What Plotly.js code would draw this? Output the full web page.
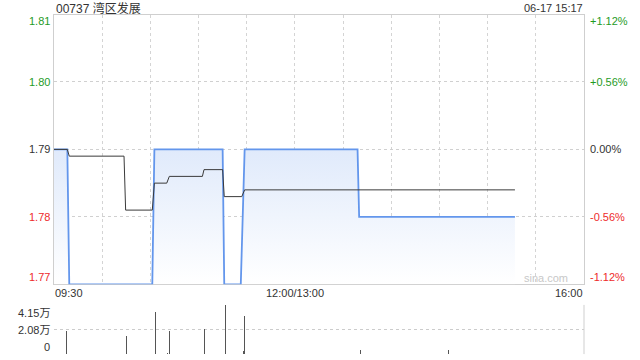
<!DOCTYPE html>
<html><head><meta charset="utf-8">
<script src="https://cdn.plot.ly/plotly-3.0.1.min.js"></script>
<style>html,body{margin:0;padding:0;background:#fff}#c{width:640px;height:360px}</style>
</head><body><div id="c"></div>
<script>
// minutes since 09:30 (trading minutes, lunch 12:00-13:00 removed)
const priceTimes  = [0, 8.3, 9.5, 61.2, 62.5, 105, 106, 116.3, 118.7, 189, 190, 287];
const priceValues = [1.79, 1.79, 1.77, 1.77, 1.79, 1.79, 1.77, 1.77, 1.79, 1.79, 1.78, 1.78];
const avgTimes  = [0, 8.3, 9.5, 43.6, 44.6, 61.2, 62.5, 70.2, 71.8, 92.4, 93.4, 105, 106, 116.9, 118.7, 287];
const avgValues = [1.79, 1.79, 1.789, 1.789, 1.781, 1.781, 1.785, 1.785, 1.786, 1.786, 1.787, 1.787, 1.783, 1.783, 1.784, 1.784];
const volTimes  = [8, 45, 63, 70.5, 72, 93.6, 107, 118, 118.7, 190.7, 245.5];
const volValues = [19750, 15300, 35400, 1300, 19750, 21200, 41500, 3000, 32000, 3600, 3600];

const priceTicks  = [1.81, 1.80, 1.79, 1.78, 1.77];
const leftLabels  = ['1.81', '1.80', '1.79', '1.78', '1.77'];
const rightLabels = ['+1.12%', '+0.56%', '0.00%', '-0.56%', '-1.12%'];
const volTicks    = [41500, 20750, 0];
const volLabels   = ['4.15万', '2.08万', '0'];
const timeTicks   = [0, 150, 330];
const timeLabels  = ['09:30', '12:00/13:00', '16:00'];
const titleText = '00737 湾区发展';
const stampText = '06-17 15:17';

const FONT = 'Liberation Sans, Arial, Noto Sans CJK SC, sans-serif';
const GREEN = '#1f9b1f', RED = '#ee2b2b', DARK = '#333333';
function tickColor(i){ return i < 2 ? GREEN : (i === 2 ? DARK : RED); }

const traces = [
  {x:[priceTimes[0], priceTimes[priceTimes.length-1]], y:[priceTicks[4], priceTicks[4]],
   mode:'lines', line:{width:0, color:'rgba(0,0,0,0)'}, hoverinfo:'skip', showlegend:false, xaxis:'x', yaxis:'y'},
  {x:priceTimes, y:priceValues, mode:'lines', fill:'tonexty',
   fillgradient:{type:'vertical', colorscale:[[0,'rgba(255,255,255,1)'],[1,'rgb(224,234,251)']]},
   line:{color:'#6396ec', width:1.8}, showlegend:false, xaxis:'x', yaxis:'y'},
  {x:avgTimes, y:avgValues, mode:'lines', line:{color:'#3a3a3a', width:1}, showlegend:false, xaxis:'x', yaxis:'y'},
  {x:volTimes, y:volValues, type:'bar', width:0.65, marker:{color:'#555555', line:{width:0}},
   showlegend:false, xaxis:'x2', yaxis:'y2'}
];

const annotations = [];
priceTicks.forEach((v,i)=>{
  const ya = i === 0 ? 'top' : (i === 4 ? 'bottom' : 'middle');
  annotations.push({xref:'paper', yref:'y', x:0, y:v, xanchor:'right', yanchor:ya, xshift:-3,
    text:leftLabels[i], showarrow:false, font:{family:FONT, size:11, color:tickColor(i)}, borderpad:0});
  annotations.push({xref:'paper', yref:'y', x:1, y:v, xanchor:'left', yanchor:ya, xshift:5,
    text:rightLabels[i], showarrow:false, font:{family:FONT, size:11, color:tickColor(i)}, borderpad:0});
});
volTicks.forEach((v,i)=>{
  const ya = i === 0 ? 'top' : (i === 2 ? 'bottom' : 'middle');
  annotations.push({xref:'paper', yref:'y2', x:0, y:v, xanchor:'right', yanchor:ya, xshift:-3,
    yshift: i===0 ? -1 : (i===2 ? 0 : 0),
    text:volLabels[i], showarrow:false, font:{family:FONT, size:11, color:DARK}, borderpad:0});
});
timeTicks.forEach((t,i)=>{
  annotations.push({xref:'x', yref:'paper', x:t, y:(360-286)/360, xanchor: i===0?'left':(i===2?'right':'center'),
    yanchor:'top', text:timeLabels[i], showarrow:false, font:{family:FONT, size:11, color:DARK}, borderpad:0});
});
annotations.push({xref:'paper', yref:'paper', x:0, y:1, xanchor:'left', yanchor:'top', xshift:1, yshift:0,
  text:titleText, showarrow:false, font:{family:FONT, size:12, color:DARK}, borderpad:0});
annotations.push({xref:'paper', yref:'paper', x:1, y:1, xanchor:'right', yanchor:'top', yshift:-1,
  text:stampText, showarrow:false, font:{family:FONT, size:11, color:DARK}, borderpad:0});
annotations.push({xref:'paper', yref:'paper', x:1, y:(360-285)/360, xanchor:'right', yanchor:'bottom', xshift:-15,
  text:'sina.com', showarrow:false, font:{family:FONT, size:11, color:'#c8c8c8'}, borderpad:0});

const layout = {
  width:640, height:360, margin:{l:54, r:56, t:0, b:0},
  paper_bgcolor:'#fff', plot_bgcolor:'#fff', showlegend:false,
  xaxis:{domain:[0,1], range:[0,330], tickvals:[30,60,90,120,150,180,210,240,270,300], showticklabels:false,
    showgrid:true, gridcolor:'#d4d4d4', griddash:'dot', gridwidth:1, zeroline:false,
    showline:true, mirror:true, linecolor:'#cfcfcf', linewidth:1, ticks:'', layer:'below traces'},
  yaxis:{domain:[(360-284.3)/360, (360-14.5)/360], range:[1.77,1.81], tickvals:[1.78,1.79,1.80],
    showticklabels:false, showgrid:true, gridcolor:'#d0d0d0', griddash:'dot', gridwidth:1, zeroline:false,
    showline:true, mirror:true, linecolor:'#cfcfcf', linewidth:1, ticks:'', layer:'below traces'},
  xaxis2:{domain:[0,1], anchor:'y2', range:[0,330], showticklabels:false, showgrid:false, zeroline:false,
    showline:false, ticks:''},
  yaxis2:{domain:[(360-354.3)/360, (360-304.7)/360], range:[0,41500], tickvals:volTicks, showticklabels:false,
    showgrid:true, gridcolor:'#cccccc', griddash:'dot', gridwidth:1, zeroline:false, showline:false, ticks:''},
  shapes:[{type:'line', xref:'paper', yref:'y2', x0:1, x1:1, y0:0, y1:41500, line:{color:'#cfcfcf', width:1}}],
  annotations:annotations,
  bargap:0
};
Plotly.newPlot('c', traces, layout, {displayModeBar:false, staticPlot:true});
</script></body></html>
